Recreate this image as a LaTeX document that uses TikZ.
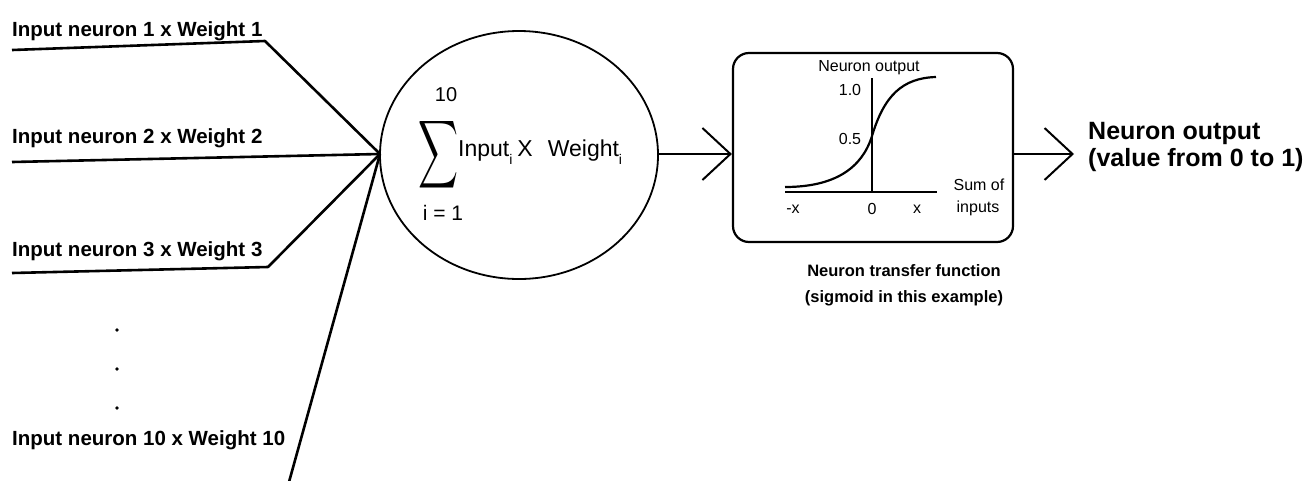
\documentclass[tikz,border=0pt]{standalone}
\usepackage{fontspec}
\setmainfont{Liberation Sans}
\usetikzlibrary{arrows.meta,shapes.geometric}
\tikzset{
  wire/.style={line width=2.6pt, line join=round},
  inlabel/.style={font=\fontsize{20.5}{23}\selectfont\bfseries, anchor=base west, inner sep=0pt},
  chev/.style={line width=2pt, -{Straight Barb[length=28pt,width=52pt,line width=2pt]}},
  small/.style={font=\fontsize{16}{18}\selectfont, inner sep=0pt},
  captext/.style={font=\fontsize{16.5}{20}\selectfont\bfseries, inner sep=0pt},
  outlabel/.style={font=\fontsize{25}{28}\selectfont\bfseries, anchor=base west, inner sep=0pt},
}
\begin{document}
\begin{tikzpicture}[x=1pt,y=-1pt]
\useasboundingbox (0,0) rectangle (1310,480);
\fill[white] (0,0) rectangle (1310,480);

% summation ellipse
\node[ellipse, draw, line width=1.8pt, minimum width=278pt, minimum height=248pt, inner sep=0pt] (sum) at (519,155) {};
\coordinate (J) at (380,154);

% inputs
\node[inlabel] (l1) at (12,36) {Input neuron 1 x Weight 1};
\node[inlabel] (l2) at (12,143) {Input neuron 2 x Weight 2};
\node[inlabel] (l3) at (12,256) {Input neuron 3 x Weight 3};
\node[inlabel] (l10) at (12,445) {Input neuron 10 x Weight 10};

\coordinate (a1) at (12,50);
\coordinate (b1) at (265,41);
\coordinate (a2) at (12,162);
\coordinate (a3) at (12,273);
\coordinate (b3) at (268,267);
\coordinate (e10) at (289,482);

\draw[wire] (a1) -- (b1) -- (J);
\draw[wire] (a2) -- (J);
\draw[wire] (a3) -- (b3) -- (J);
\draw[wire] (e10) -- (J);

\node[circle, fill, inner sep=1.3pt] (d1) at (117,330) {};
\node[circle, fill, inner sep=1.3pt] (d2) at (117,369) {};
\node[circle, fill, inner sep=1.3pt] (d3) at (117,408) {};

% summation formula
\node[inner sep=0pt] (sigma) at (438,155) {\resizebox*{40pt}{76pt}{$\displaystyle\sum$}};
\node[font=\fontsize{20}{22}\selectfont, inner sep=0pt] (top) at (446,95) {10};
\node[font=\fontsize{21}{22}\selectfont, inner sep=0pt] (bot) at (443,213) {i = 1};
\node[font=\fontsize{23}{26}\selectfont, anchor=base west, inner sep=0pt] (prod) at (458,156)
  {Input\raisebox{-8pt}{\fontsize{14}{15}\selectfont i}\hspace{5pt}X\hspace{15pt}Weight\raisebox{-8pt}{\fontsize{14}{15}\selectfont i}};

% transfer function box
\node[draw, rounded corners=16pt, line width=2.2pt, minimum width=280pt, minimum height=189pt, inner sep=0pt] (box) at (873,147.5) {};
\draw[line width=1.8pt] (785,192) coordinate (xl) -- (937,192) coordinate (xr);
\draw[line width=1.8pt] (872,192) coordinate (o0) -- (872,78) coordinate (yt);
\draw[line width=2.2pt] (785,187) .. controls (835,187) and (862,168) .. (872,136)
  .. controls (884,96) and (902,78) .. (936,77);
\node[small] (yl) at (869,68) {Neuron output};
\node[small] (y1) at (850,90) {1.0};
\node[small] (y5) at (850,139) {0.5};
\node[small] (xm) at (793,209) {-x};
\node[small] (x0) at (872,209) {0};
\node[small] (xp) at (917,209) {x};
\node[small] (s1) at (979,185) {Sum of};
\node[small] (s2) at (978,208) {inputs};

\node[captext] (c1) at (904,271) {Neuron transfer function};
\node[captext] (c2) at (904,298) {(sigmoid in this example)};

% arrows
\draw[chev] (sum.east |- J) -- (box.west |- J);
\coordinate (out) at (1074,154);
\draw[chev] (box.east |- J) -- (out);

\node[outlabel] (o1) at (1088,139) {Neuron output};
\node[outlabel] (o2) at (1088,166) {(value from 0 to 1)};
\end{tikzpicture}
\end{document}
